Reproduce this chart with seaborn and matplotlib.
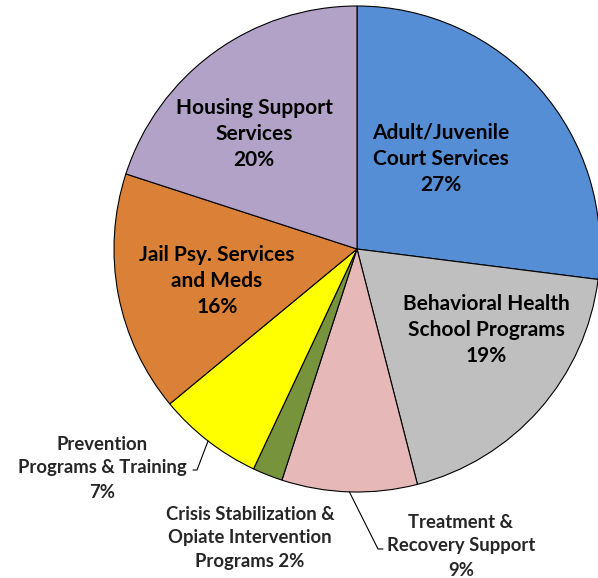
import matplotlib
matplotlib.use('Agg')

import numpy as np
import matplotlib.pyplot as plt
import seaborn as sns

# Datos del gráfico (sentido horario desde las 12 en punto)
categorias = [
    "Adult/Juvenile\nCourt Services",
    "Behavioral Health\nSchool Programs",
    "Treatment &\nRecovery Support",
    "Crisis Stabilization &\nOpiate Intervention\nPrograms",
    "Prevention\nPrograms & Training",
    "Jail Psy. Services\nand Meds",
    "Housing Support\nServices",
]
porcentajes = [27, 19, 9, 2, 7, 16, 20]
colores = ["#558ED5", "#BFBFBF", "#E6B9B8", "#77933C", "#FFFF00", "#DA8137", "#B3A2C7"]

W, H = 598, 578
CX, CY, R = 357, 249, 243


def py(y):
    # convertir y de píxel (arriba->abajo) a coordenadas de datos
    return H - y


sns.set_theme(style="white")
plt.rcParams['font.family'] = ['Lato', 'DejaVu Sans']

fig = plt.figure(figsize=(W / 100, H / 100), dpi=100)
ax = fig.add_axes([0, 0, 1, 1])

wedges, _ = ax.pie(
    porcentajes,
    colors=sns.color_palette(colores),
    startangle=90,
    counterclock=False,
    center=(CX, py(CY)),
    radius=R,
    wedgeprops=dict(edgecolor="black", linewidth=0.8),
)

ax.set_xlim(0, W)
ax.set_ylim(0, H)
ax.set_aspect('equal')
ax.axis('off')

# etiquetas interiores: (x, y centro) en píxeles
grande = dict(fontsize=15, fontweight='bold', ha='center', va='center', linespacing=1.38)
chico = dict(fontsize=13.3, fontweight='bold', ha='center', va='center', linespacing=1.5)

interiores = {
    0: (441, 159),
    1: (486, 330),
    5: (217, 281),
    6: (254, 134),
}
for i, (x, y) in interiores.items():
    ax.text(x, py(y), f"{categorias[i]}\n{porcentajes[i]}%", color="black", **grande)

# etiquetas exteriores
ax.text(102, py(468), f"{categorias[4]}\n{porcentajes[4]}%", **chico)
ax.text(250, py(538), f"{categorias[3]} {porcentajes[3]}%", **chico)
ax.text(461, py(546), f"{categorias[2]}\n{porcentajes[2]}%", **chico)


def borde(w):
    ang = np.deg2rad((w.theta1 + w.theta2) / 2)
    return CX + R * np.cos(ang), py(CY) + R * np.sin(ang)


# líneas guía
bx, by = borde(wedges[4])
ax.plot([193, 197, bx], [py(470), py(470), by], color="black", lw=0.8)
bx, by = borde(wedges[2])
ax.plot([bx, 378, 383], [by, py(549), py(549)], color="black", lw=0.8)

fig.savefig("out.png", dpi=100)
plt.close(fig)
